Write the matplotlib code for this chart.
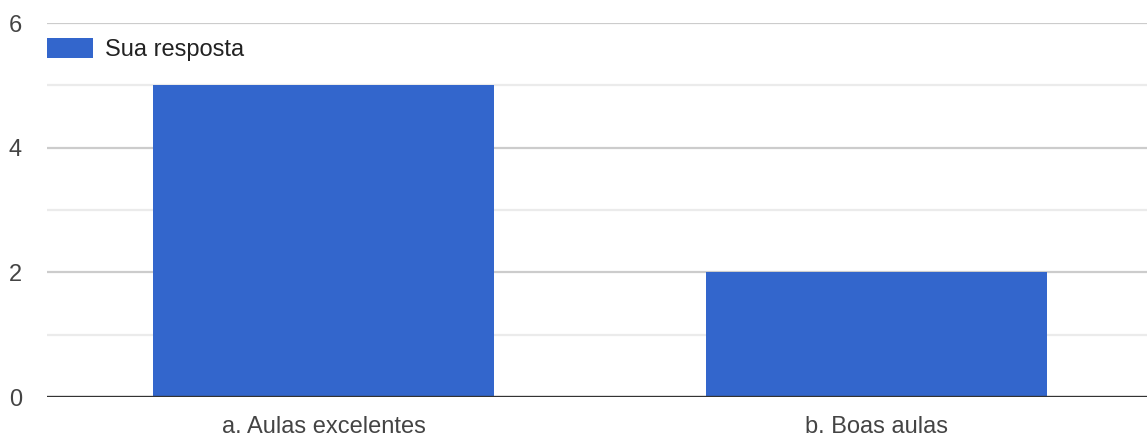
import matplotlib
matplotlib.use("Agg")
import matplotlib.pyplot as plt

# ----------------------------
# Datos
# ----------------------------
categorias = ["a. Aulas excelentes", "b. Boas aulas"]
valores = [5, 2]
serie = "Sua resposta"
ticks_y = [0, 2, 4, 6]

plt.rcParams["font.family"] = ["Liberation Sans", "DejaVu Sans"]

fig = plt.figure(figsize=(11.47, 4.37), dpi=100)
ax = fig.add_axes([47 / 1147, 40 / 437, 1106 / 1147, 374 / 437])

# lineas de la cuadricula
for v in range(1, 7):
    color = "#cccccc" if v % 2 == 0 else "#ebebeb"
    ax.axhline(v, color=color, lw=1.6, zorder=0)

x = list(range(len(categorias)))
ax.bar(x, valores, width=0.615, color="#3366cc", label=serie, zorder=2)
ax.axhline(0, color="#333333", lw=2.4, zorder=3)

ax.set_xlim(-0.5, len(categorias) - 0.5)
ax.set_ylim(0, 6)
ax.set_yticks(ticks_y)
ax.set_xticks(x)
ax.set_xticklabels(categorias)
ax.tick_params(axis="both", length=0, labelsize=17, colors="#444444")
ax.tick_params(axis="y", pad=18)
ax.tick_params(axis="x", pad=14)
for s in ax.spines.values():
    s.set_visible(False)

ax.legend(loc="upper left", bbox_to_anchor=(0.0, 0.96), frameon=False,
          fontsize=17, handlelength=1.95, handleheight=0.95, handletextpad=0.5,
          borderaxespad=0, borderpad=0, labelcolor="#222222")

fig.savefig("out.png", dpi=100)
